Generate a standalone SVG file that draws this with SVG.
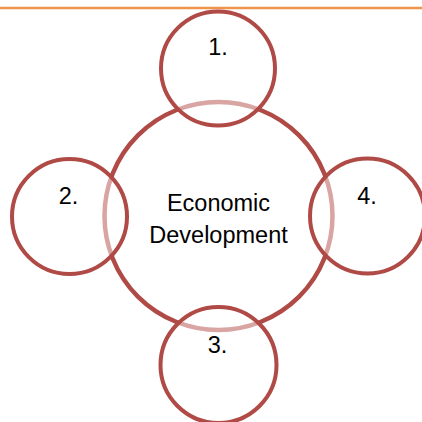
<svg xmlns="http://www.w3.org/2000/svg" width="422" height="422" viewBox="0 0 422 422">
<style>
.big{fill:#ffffff;stroke:#B04A46;stroke-width:4.5}
.small{fill:#ffffff;fill-opacity:0.5;stroke:#B04A46;stroke-width:4}
.t{font-family:"Liberation Sans",Arial,sans-serif;font-size:23.5px;fill:#000;text-anchor:middle}
</style>
<rect width="422" height="422" fill="#ffffff"/>
<line x1="0" y1="8" x2="422" y2="8" stroke="#F0944A" stroke-width="2.5"/>
<g id="center">
<circle class="big" cx="218.5" cy="216" r="114"/>
<text class="t" x="218.5" y="211">Economic</text>
<text class="t" x="218.5" y="243">Development</text>
</g>
<g id="n1">
<circle class="small" cx="218" cy="68.5" r="57"/>
<text class="t" x="218" y="55">1.</text>
</g>
<g id="n2">
<circle class="small" cx="69.5" cy="216.5" r="57.5"/>
<text class="t" x="68.5" y="204">2.</text>
</g>
<g id="n3">
<circle class="small" cx="218.5" cy="365" r="58"/>
<text class="t" x="217.5" y="353">3.</text>
</g>
<g id="n4">
<circle class="small" cx="367.5" cy="216" r="57.5"/>
<text class="t" x="367" y="203.5">4.</text>
</g>
<g id="connectors"></g>
</svg>
